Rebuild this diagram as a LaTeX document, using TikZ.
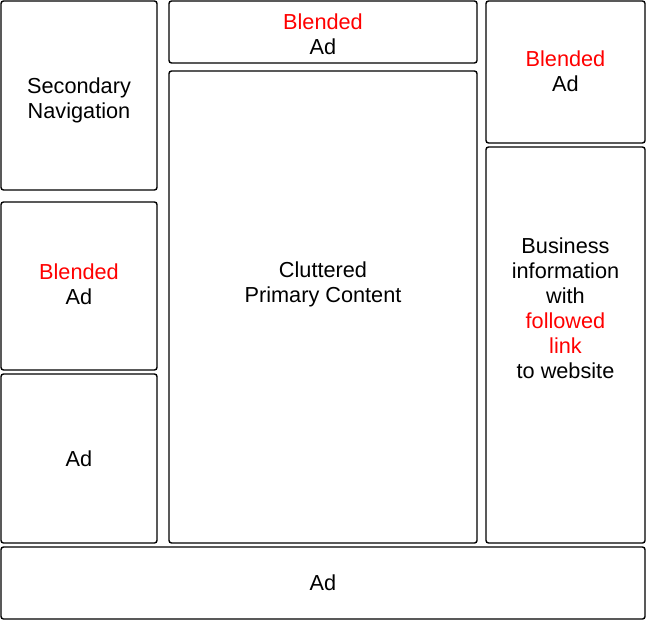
\documentclass[tikz,border=0pt]{standalone}
\usepackage{fontspec}
\setmainfont{Liberation Sans}
\usetikzlibrary{positioning}
\definecolor{AdRed}{RGB}{255,0,0}

\begin{document}
\begin{tikzpicture}[
    x=1pt,y=-1pt,
    panel/.style={rectangle,draw=black,line width=1.4pt,rounded corners=2.5pt,inner sep=0pt},
    caption/.style={align=center,font=\fontsize{21.7}{25}\selectfont}
]
\useasboundingbox (0,0) rectangle (650,621);

% Left column
\node[panel,minimum width=156,minimum height=189] (sec-nav) at (79,95.5) {};
\node[panel,minimum width=156,minimum height=168] (left-blend) at (79,286) {};
\node[panel,minimum width=156,minimum height=169] (left-ad) at (79,458.5) {};

% Centre column
\node[panel,minimum width=308,minimum height=62] (top-blend) at (323,32) {};
\node[panel,minimum width=308,minimum height=472] (content) at (323,307) {};

% Right column
\node[panel,minimum width=159,minimum height=142] (right-blend) at (565.5,72) {};
\node[panel,minimum width=159,minimum height=396] (biz-info) at (565.5,345) {};

% Bottom strip
\node[panel,minimum width=644,minimum height=72] (bottom-ad) at (323,583) {};

% Texts
\node[caption] (sec-nav-text) at (79,100.5) {Secondary\\Navigation};
\node[caption] (left-blend-text) at (79,284.5) {\textcolor{AdRed}{Blended}\\Ad};
\node[caption] (left-ad-text) at (left-ad) {Ad};
\node[caption] (top-blend-text) at (323,34.5) {\textcolor{AdRed}{Blended}\\Ad};
\node[caption] (content-text) at (323,284.5) {Cluttered\\Primary Content};
\node[caption] (right-blend-text) at (565.5,71) {\textcolor{AdRed}{Blended}\\Ad};
\node[caption] (biz-info-text) at (565.5,308.5) {Business\\information\\with\\\textcolor{AdRed}{followed}\\\textcolor{AdRed}{link}\\to website};
\node[caption] (bottom-ad-text) at (bottom-ad) {Ad};

\end{tikzpicture}
\end{document}
